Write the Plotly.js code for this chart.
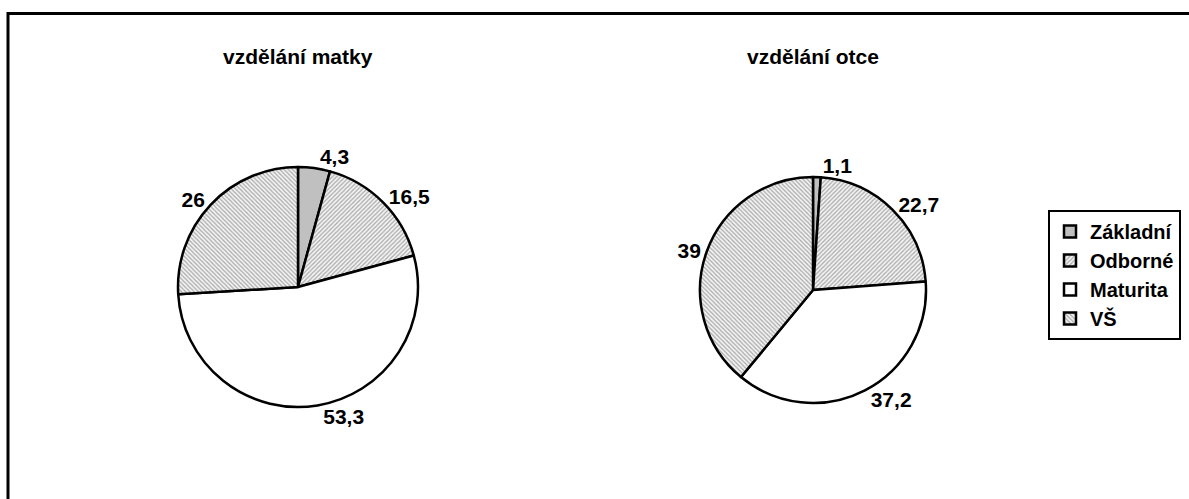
<!DOCTYPE html>
<html>
<head>
<meta charset="utf-8">
<script src="https://cdn.plot.ly/plotly-3.0.1.min.js"></script>
<style>html,body{margin:0;padding:0;background:#fff;}#chart{width:1189px;height:499px;}</style>
</head>
<body>
<div id="chart"></div>
<script>
const categories = ['Základní', 'Odborné', 'Maturita', 'VŠ'];
const matkaValues = [4.3, 16.5, 53.3, 26];
const otecValues = [1.1, 22.7, 37.2, 39];
const chartTitles = ['vzdělání matky', 'vzdělání otce'];

const W = 1189, H = 499;
const fmt = v => String(v).replace('.', ',');
const FONT = 'Arial, "Liberation Sans", sans-serif';

const marker = {
  colors: ['#c0c0c0', '#ffffff', '#ffffff', '#ffffff'],
  line: {color: '#000', width: 2.5},
  pattern: {
    shape: ['', '/', '', '\\'],
    fgcolor: ['#c0c0c0', '#a8a8a8', '#ffffff', '#a8a8a8'],
    bgcolor: ['#c0c0c0', '#f4f4f4', '#ffffff', '#f4f4f4'],
    size: 3,
    solidity: 0.4,
    fillmode: 'replace'
  }
};

function pieTrace(values, cx, cy, r) {
  return {
    type: 'pie',
    labels: categories,
    values: values,
    text: values.map(fmt),
    textinfo: 'text',
    textposition: 'outside',
    textfont: {family: FONT, size: 21, color: '#000', weight: 'bold'},
    sort: false,
    direction: 'clockwise',
    rotation: 0,
    hoverinfo: 'label+text',
    marker: marker,
    domain: {
      x: [(cx - r) / W, (cx + r) / W],
      y: [1 - (cy + r) / H, 1 - (cy - r) / H]
    }
  };
}

const data = [
  pieTrace(matkaValues, 298, 287, 120),
  pieTrace(otecValues, 813, 290, 113)
];

const layout = {
  width: W, height: H,
  margin: {l: 0, r: 0, t: 0, b: 0},
  paper_bgcolor: '#fff',
  plot_bgcolor: '#fff',
  font: {family: FONT, color: '#000'},
  showlegend: true,
  legend: {
    x: 1048 / W, y: 1 - 210 / H, xanchor: 'left', yanchor: 'top',
    bordercolor: '#000', borderwidth: 2, bgcolor: '#fff',
    font: {family: FONT, size: 20, color: '#000', weight: 'bold'},
    traceorder: 'normal'
  },
  annotations: [
    {text: '<b>' + chartTitles[0] + '</b>', x: 298 / W, y: 1 - 56 / H, xref: 'paper', yref: 'paper',
     showarrow: false, xanchor: 'center', yanchor: 'middle', font: {family: FONT, size: 21, color: '#000'}},
    {text: '<b>' + chartTitles[1] + '</b>', x: 813 / W, y: 1 - 56 / H, xref: 'paper', yref: 'paper',
     showarrow: false, xanchor: 'center', yanchor: 'middle', font: {family: FONT, size: 21, color: '#000'}}
  ],
  shapes: [
    {type: 'rect', xref: 'paper', yref: 'paper', x0: 8 / W, x1: 1.05, y0: -0.05, y1: 1 - 13.5 / H,
     line: {color: '#000', width: 3}, fillcolor: 'rgba(0,0,0,0)', layer: 'below'}
  ]
};

Plotly.newPlot('chart', data, layout, {displayModeBar: false, staticPlot: true});
</script>
</body>
</html>
